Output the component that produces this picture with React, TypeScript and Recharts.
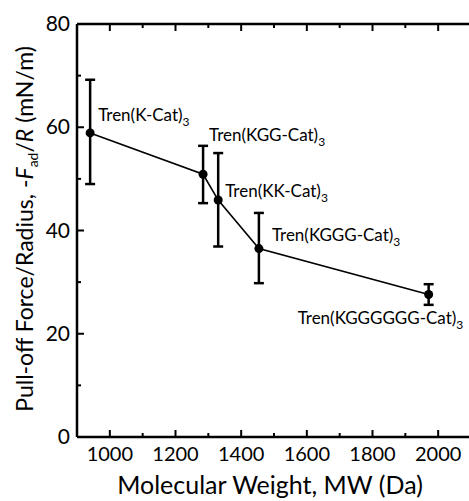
import * as React from 'react';
import {LineChart, XAxis, YAxis, Line, ErrorBar} from "recharts";

// molecular weight (Da), pull-off force / radius (mN/m) and error limits
const peptides = ["K", "KGG", "KK", "KGGG", "KGGGGGG"];
const mw = [940, 1284, 1330, 1454, 1971];
const force = [58.9, 50.9, 45.9, 36.5, 27.6];
const forceHigh = [69.2, 56.4, 55.0, 43.4, 29.6];
const forceLow = [49.0, 45.3, 36.9, 29.8, 25.6];

const xTicks = [1000, 1100, 1200, 1300, 1400, 1500, 1600, 1700, 1800, 1900, 2000];
const yTicks = [0, 10, 20, 30, 40, 50, 60, 70, 80];

// label offsets from each point, in px
const labelDx = [8, 6, 7, 13, -131];
const labelDy = [-12, -33, -3, -8, 29];

const FONT = "Lato, 'Open Sans', sans-serif";

const data = mw.map((m, i) => ({
    mw: m,
    force: force[i],
    err: [force[i] - forceLow[i], forceHigh[i] - force[i]],
    name: peptides[i],
}));

function BottomTick(props: any) {
    const {x, y, payload} = props;
    const major = payload.value % 200 === 0;
    return (
        <g>
            <line x1={x} x2={x} y1={y} y2={y - (major ? 7 : 4)} stroke="#000" strokeWidth={2}/>
            {major && <text x={x} y={y + 24} textAnchor="middle" fontSize={20} fontFamily={FONT} fill="#000">{payload.value}</text>}
        </g>
    );
}

function TopTick(props: any) {
    const {x, y, payload} = props;
    const major = payload.value % 200 === 0;
    return <line x1={x} x2={x} y1={y} y2={y + (major ? 7 : 4)} stroke="#000" strokeWidth={2}/>;
}

function LeftTick(props: any) {
    const {x, y, payload} = props;
    const major = payload.value % 20 === 0;
    return (
        <g>
            <line x1={x} x2={x + (major ? 7 : 4)} y1={y} y2={y} stroke="#000" strokeWidth={2}/>
            {major && <text x={x - 7} y={y + 7} textAnchor="end" fontSize={21} fontFamily={FONT} fill="#000">{payload.value}</text>}
        </g>
    );
}

function RightTick(props: any) {
    const {x, y, payload} = props;
    const major = payload.value % 20 === 0;
    return <line x1={x} x2={x - (major ? 7 : 4)} y1={y} y2={y} stroke="#000" strokeWidth={2}/>;
}

function PointDot(props: any) {
    const {cx, cy, index} = props;
    return (
        <g key={"dot" + index}>
            <circle cx={cx} cy={cy} r={4.5} fill="#000"/>
            <text x={cx + labelDx[index]} y={cy + labelDy[index]} fontSize={17} fontFamily={FONT} fill="#000">
                <tspan>Tren({peptides[index]}-Cat)</tspan>
                <tspan dy={5} fontSize={12}>3</tspan>
            </text>
        </g>
    );
}

function XTitle() {
    return (
        <text x={270} y={494} textAnchor="middle" fontSize={25} fontFamily={FONT} fill="#000">
            Molecular Weight, MW (Da)
        </text>
    );
}

function YTitle() {
    return (
        <text x={33} y={229} transform="rotate(-90, 33, 229)" textAnchor="middle" fontSize={23} fontFamily={FONT} fill="#000">
            <tspan>Pull-off Force/Radius, -</tspan>
            <tspan fontStyle="italic">F</tspan>
            <tspan fontSize={14} dy={5}>ad</tspan>
            <tspan dy={-5}>/</tspan>
            <tspan fontStyle="italic">R</tspan>
            <tspan> (mN/m)</tspan>
        </text>
    );
}

const axisLine = {stroke: '#000', strokeWidth: 2.5};

export default function App() {
    return (
        <div style={{position: 'absolute', left: 0, top: 0, width: 469, height: 501, overflow: 'hidden', background: '#fff'}}>
            <LineChart width={480} height={501} data={data} margin={{top: 23, right: 8, left: 76, bottom: 63}}>
                <XAxis xAxisId="b" dataKey="mw" type="number" domain={[900, 2100]} ticks={xTicks}
                       height={1} tickSize={0} tickMargin={0} tickLine={false} interval={0}
                       axisLine={axisLine} tick={<BottomTick/>} label={<XTitle/>}/>
                <XAxis xAxisId="t" orientation="top" dataKey="mw" type="number" domain={[900, 2100]} ticks={xTicks}
                       height={1} tickSize={0} tickMargin={0} tickLine={false} interval={0}
                       axisLine={axisLine} tick={<TopTick/>}/>
                <YAxis yAxisId="l" type="number" domain={[0, 80]} ticks={yTicks}
                       width={1} tickSize={0} tickMargin={0} tickLine={false} interval={0}
                       axisLine={axisLine} tick={<LeftTick/>} label={<YTitle/>}/>
                <YAxis yAxisId="r" orientation="right" type="number" domain={[0, 80]} ticks={yTicks}
                       width={1} tickSize={0} tickMargin={0} tickLine={false} interval={0}
                       axisLine={axisLine} tick={<RightTick/>}/>
                <Line xAxisId="b" yAxisId="l" dataKey="force" stroke="#000" strokeWidth={1.6}
                      dot={PointDot} activeDot={false} isAnimationActive={false}>
                    <ErrorBar dataKey="err" direction="y" width={5} stroke="#000" strokeWidth={2.5}/>
                </Line>
            </LineChart>
        </div>
    );
}
